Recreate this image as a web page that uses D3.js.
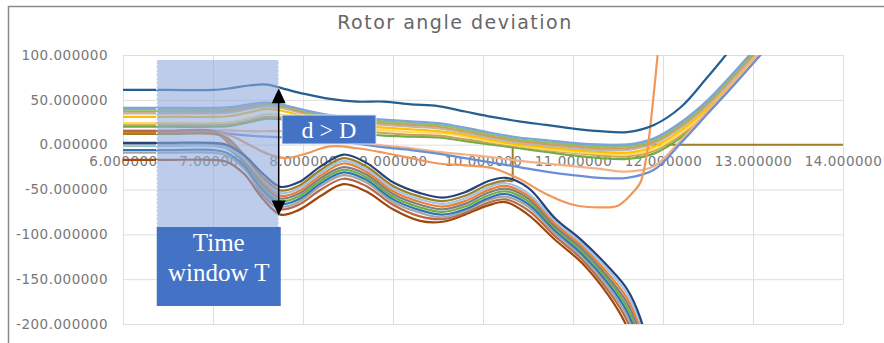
<!DOCTYPE html>
<html>
<head>
<meta charset="utf-8">
<script src="https://cdn.jsdelivr.net/npm/d3@7"></script>
<style>
  html, body { margin: 0; padding: 0; background: #ffffff; }
  svg { display: block; }
  .tick text { font-family: "DejaVu Sans", sans-serif; font-size: 13.5px; letter-spacing: 0.5px; fill: #777777; }
</style>
</head>
<body>
<script>
// ---------- DATA ----------
const TITLE = "Rotor angle deviation";
const X_TICKS = [6, 7, 8, 9, 10, 11, 12, 13, 14];
const X_TICK_LABELS = ["6.000000", "7.000000", "8.000000", "9.000000", "10.000000", "11.000000", "12.000000", "13.000000", "14.000000"];
const Y_TICKS = [100, 50, 0, -50, -100, -150, -200];
const Y_TICK_LABELS = ["100.000000", "50.000000", "0.000000", "-50.000000", "-100.000000", "-150.000000", "-200.000000"];

// time samples for the "stable" trajectories
const XS = [6.0, 6.5, 7.0, 7.2, 7.4, 7.6, 7.8, 8.0, 8.3, 8.6, 8.9, 9.2, 9.5, 9.8, 10.1, 10.4, 10.7, 11.0, 11.3, 11.6, 11.9, 12.2, 12.5, 12.8, 13.1, 13.4];
const S_TEAL   = [61, 61, 61, 63, 66, 67, 62, 57, 51, 48, 48, 45, 43, 37, 31, 26, 22, 18, 15, 14, 22, 42, 76, 112, 145, 180];
const S_BLUE1  = [41, 41, 41, 42, 45, 47, 44, 39, 33, 30, 28, 26, 24, 19, 13, 8, 5, 2, 0, 0, 7, 25, 50, 82, 116, 150];
const S_GREEN1 = [39, 39, 39, 40, 44, 46, 43, 38, 31, 28, 26, 24, 22, 17, 11, 6, 3, 0, -2, -2, 5, 23, 48, 80, 114, 148];
const S_ORANGE1= [37, 37, 37, 38, 42, 45, 42, 36, 29, 26, 24, 22, 20, 15, 9, 4, 1, -2, -4, -4, 3, 21, 46, 78, 112, 146];
const S_GRAY1  = [35, 35, 35, 36, 40, 43, 40, 35, 28, 24, 22, 20, 18, 13, 7, 2, -1, -4, -6, -6, 1, 19, 44, 76, 110, 144];
const S_GOLD   = [31, 31, 31, 32, 36, 40, 37, 32, 25, 21, 19, 17, 15, 11, 5, 0, -3, -6, -8, -9, -2, 16, 41, 73, 107, 141];
const S_YELLOW = [24, 24, 24, 25, 29, 34, 33, 30, 23, 19, 16, 14, 13, 9, 3, -1, -5, -8, -10, -11, -5, 13, 38, 70, 104, 138];
const S_GRAY2  = [22, 22, 22, 23, 27, 31, 30, 27, 20, 16, 13, 11, 10, 6, 2, -2, -6, -9, -12, -13, -7, 11, 36, 68, 102, 136];
const S_GREEN2 = [20, 20, 20, 21, 25, 29, 28, 25, 17, 13, 10, 9, 8, 4, 0, -4, -8, -12, -15, -16, -10, 8, 36, 70, 104, 138];
const S_SALMON = [16, 16, 16, 16, 15, 15, 15, 14, 8, 3, -1, -4, -8, -11, -14, -18, -21, -24, -27, -30, -24, 5, 38, 72, 106, 140];
const S_BLUE2  = [15, 15, 15, 12, 10, 9, 8, 7, 5, 1, -3, -6, -10, -15, -20, -25, -30, -34, -37, -37, -28, 2, 35, 68, 102, 136];

// the orange trajectory that dips and then shoots upward
const XO = [6.0, 6.5, 7.0, 7.2, 7.4, 7.6, 7.8, 8.0, 8.3, 8.6, 8.9, 9.2, 9.5, 9.8, 10.1, 10.4, 10.7, 11.0, 11.3, 11.5, 11.65, 11.75, 11.82, 11.88, 11.95];
const S_ORANGE_DIP = [14, 14, 14, 10, 0, -10, -15, -11, -2, -4, -9, -15, -21, -23, -26, -38, -55, -67, -70, -68, -55, -42, -10, 40, 110];

// time samples for the "unstable" trajectories
const XU = [6.0, 6.5, 7.0, 7.15, 7.35, 7.55, 7.75, 7.95, 8.2, 8.45, 8.7, 9.0, 9.3, 9.55, 9.8, 10.05, 10.25, 10.5, 10.8, 11.1, 11.4, 11.6, 11.75, 11.85];
const U_DARKBLUE = [2, 2, 2, 0, -12, -32, -47, -42, -24, -11, -20, -42, -54, -59, -53, -41, -37, -48, -82, -107, -137, -161, -194, -235];
const U_LTBLUE   = [-1, -1, -1, -3, -16, -38, -54, -49, -31, -18, -27, -49, -61, -66, -60, -48, -43, -54, -85, -110, -141, -166, -200, -240];
const U_ORANGE   = [13, 13, 13, 6, -16, -41, -57, -52, -34, -21, -30, -52, -64, -69, -63, -51, -46, -57, -88, -113, -145, -171, -206, -246];
const U_GRAY     = [0, 0, 0, -2, -18, -44, -60, -55, -37, -25, -33, -55, -67, -72, -66, -54, -49, -60, -91, -116, -149, -176, -212, -252];
const U_GREEN    = [-1, -1, -1, -4, -20, -47, -63, -58, -40, -28, -36, -58, -70, -75, -69, -57, -52, -63, -93, -119, -152, -181, -218, -258];
const U_BLUE     = [-6, -6, -6, -9, -24, -50, -66, -61, -43, -31, -39, -61, -73, -78, -72, -60, -55, -66, -96, -122, -156, -186, -224, -264];
const U_LTGRAY   = [-9, -9, -9, -12, -27, -53, -69, -64, -46, -34, -42, -64, -76, -81, -74, -62, -58, -69, -99, -125, -160, -191, -230, -270];
const U_REDBROWN = [15, 15, 15, 4, -22, -56, -72, -67, -50, -38, -46, -67, -80, -83, -76, -65, -61, -73, -102, -128, -164, -196, -236, -276];
const U_BROWN    = [-17, -17, -17, -19, -33, -60, -78, -73, -57, -44, -52, -72, -85, -86, -78, -68, -64, -78, -106, -132, -169, -203, -244, -284];

// olive trajectory: follows the unstable bundle, then jumps to 0
const XOL = [6.0, 6.5, 7.0, 7.15, 7.35, 7.55, 7.75, 7.95, 8.2, 8.45, 8.7, 9.0, 9.3, 9.55, 9.8, 10.05, 10.25, 10.33];
const U_OLIVE = [12, 12, 12, 8, -12, -36, -51, -46, -28, -15, -24, -46, -58, -63, -57, -45, -40, -41];
const XOL_TAIL = [10.33, 10.33, 14.0];
const U_OLIVE_TAIL = [-41, 0, 0];

// annotation values
const WINDOW = [6.375, 7.73];
const D_ARROW = [63, -79];

// ---------- CHART ----------
const W = 884, H = 343;
const svg = d3.select("body").append("svg").attr("width", W).attr("height", H);

const x = d3.scaleLinear().domain([6, 14]).range([123, 843]);
const y = d3.scaleLinear().domain([-200, 100]).range([324, 55]);

// outer frame
svg.append("path")
  .attr("d", `M8.5,${H} L8.5,6.5 L${W},6.5`)
  .attr("fill", "none").attr("stroke", "#8a8a8a").attr("stroke-width", 1.5);

// title
svg.append("text")
  .attr("x", 455).attr("y", 29)
  .attr("text-anchor", "middle")
  .style("font-family", "DejaVu Sans, sans-serif")
  .style("font-size", "19px")
  .style("letter-spacing", "1.5px")
  .style("fill", "#666666")
  .text(TITLE);

// gridlines
const gridY = svg.append("g").attr("transform", `translate(${x(6)},0)`)
  .call(d3.axisLeft(y).tickValues(Y_TICKS).tickSize(-(x(14) - x(6))).tickFormat(""));
gridY.select(".domain").remove();
gridY.selectAll("line").attr("stroke", "#dedede").attr("stroke-width", 1);

const gridX = svg.append("g").attr("transform", `translate(0,${y(-200)})`)
  .call(d3.axisBottom(x).tickValues(X_TICKS).tickSize(-(y(-200) - y(100))).tickFormat(""));
gridX.select(".domain").remove();
gridX.selectAll("line").attr("stroke", "#dedede").attr("stroke-width", 1);

// y-axis labels
const yAxis = svg.append("g").attr("transform", `translate(${x(6)},0)`)
  .call(d3.axisLeft(y).tickValues(Y_TICKS).tickSize(0).tickPadding(15)
    .tickFormat((d, i) => Y_TICK_LABELS[i]));
yAxis.select(".domain").remove();

// x-axis labels (crossing at 0)
const xAxis = svg.append("g").attr("transform", `translate(0,${y(0)})`)
  .call(d3.axisBottom(x).tickValues(X_TICKS).tickSize(0).tickPadding(12)
    .tickFormat((d, i) => X_TICK_LABELS[i]));
xAxis.select(".domain").remove();

// clip
svg.append("clipPath").attr("id", "plotclip")
  .append("rect").attr("x", x(6)).attr("y", y(100)).attr("width", x(14) - x(6)).attr("height", y(-200) - y(100));

const zip = (xs, ys) => xs.map((v, i) => [v, ys[i]]);
const lineSmooth = d3.line().x(d => x(d[0])).y(d => y(d[1])).curve(d3.curveCatmullRom.alpha(0.5));
const lineStraight = d3.line().x(d => x(d[0])).y(d => y(d[1])).curve(d3.curveLinear);

const OLIVE = "#9e7f2a";
const plot = svg.append("g").attr("clip-path", "url(#plotclip)");

// olive tail first (drawn beneath the stable bundle)
plot.append("path")
  .attr("d", lineStraight(zip(XOL_TAIL, U_OLIVE_TAIL)))
  .attr("fill", "none").attr("stroke", OLIVE).attr("stroke-width", 2);

const series = [
  { xs: XS, ys: S_GREEN2, color: "#70ad47" },
  { xs: XS, ys: S_GRAY2, color: "#c9a25a" },
  { xs: XS, ys: S_YELLOW, color: "#ffd966" },
  { xs: XS, ys: S_GOLD, color: "#ffc000" },
  { xs: XS, ys: S_GRAY1, color: "#b7b7b7" },
  { xs: XS, ys: S_ORANGE1, color: "#d69b57" },
  { xs: XS, ys: S_GREEN1, color: "#8cc168" },
  { xs: XS, ys: S_BLUE1, color: "#7fa3dd" },
  { xs: XS, ys: S_SALMON, color: "#f4b183" },
  { xs: XS, ys: S_BLUE2, color: "#6a8fd6" },
  { xs: XO, ys: S_ORANGE_DIP, color: "#f1975a" },
  { xs: XU, ys: U_BROWN, color: "#9e480e" },
  { xs: XU, ys: U_REDBROWN, color: "#b86a48" },
  { xs: XU, ys: U_LTGRAY, color: "#a5a5a5" },
  { xs: XU, ys: U_BLUE, color: "#2e75b6" },
  { xs: XU, ys: U_GREEN, color: "#70ad47" },
  { xs: XU, ys: U_GRAY, color: "#7f7f7f" },
  { xs: XU, ys: U_ORANGE, color: "#ed7d31" },
  { xs: XU, ys: U_LTBLUE, color: "#9dc3e6" },
  { xs: XOL, ys: U_OLIVE, color: OLIVE },
  { xs: XU, ys: U_DARKBLUE, color: "#264478" },
  { xs: XS, ys: S_TEAL, color: "#255e91" }
];

plot.selectAll("path.series").data(series).join("path")
  .attr("class", "series")
  .attr("d", d => lineSmooth(zip(d.xs, d.ys)))
  .attr("fill", "none")
  .attr("stroke", d => d.color)
  .attr("stroke-width", 2.2)
  .attr("stroke-linejoin", "round");

// time-window shading
const wx0 = x(WINDOW[0]), wx1 = x(WINDOW[1]);
const shadeTop = 60, shadeBottom = 227;
svg.append("rect")
  .attr("x", wx0).attr("y", shadeTop).attr("width", wx1 - wx0).attr("height", shadeBottom - shadeTop)
  .attr("fill", "#8faadc").attr("fill-opacity", 0.6);
[wx0, wx1].forEach(xx => {
  svg.append("line").attr("x1", xx).attr("x2", xx).attr("y1", shadeTop).attr("y2", shadeBottom)
    .attr("stroke", "#ffffff").attr("stroke-width", 1.2).attr("stroke-dasharray", "2,2");
});

// "Time window T" box
svg.append("rect").attr("x", wx0).attr("y", 227).attr("width", 124).attr("height", 79).attr("fill", "#4472c4");
svg.append("text").attr("x", wx0 + 62).attr("y", 251).attr("text-anchor", "middle")
  .style("font-family", "Liberation Serif, serif").style("font-size", "25px").style("fill", "#ffffff").text("Time");
svg.append("text").attr("x", wx0 + 62).attr("y", 281).attr("text-anchor", "middle")
  .style("font-family", "Liberation Serif, serif").style("font-size", "25px").style("fill", "#ffffff").text("window T");

// "d > D" box
svg.append("rect").attr("x", 282).attr("y", 115).attr("width", 94).attr("height", 29)
  .attr("fill", "#4472c4").attr("stroke", "#dbe4f3").attr("stroke-width", 1);
svg.append("text").attr("x", 329).attr("y", 138).attr("text-anchor", "middle")
  .style("font-family", "Liberation Serif, serif").style("font-size", "24px").style("fill", "#ffffff").text("d > D");

// double arrow
const ax = x(WINDOW[1]);
const ay0 = y(D_ARROW[0]), ay1 = y(D_ARROW[1]);
svg.append("line").attr("x1", ax).attr("x2", ax).attr("y1", ay0 + 10).attr("y2", ay1 - 10)
  .attr("stroke", "#000000").attr("stroke-width", 1.5);
svg.append("path").attr("d", `M${ax},${ay0} L${ax - 7},${ay0 + 15} L${ax + 7},${ay0 + 15} Z`).attr("fill", "#000000");
svg.append("path").attr("d", `M${ax},${ay1} L${ax - 7},${ay1 - 15} L${ax + 7},${ay1 - 15} Z`).attr("fill", "#000000");
</script>
</body>
</html>
